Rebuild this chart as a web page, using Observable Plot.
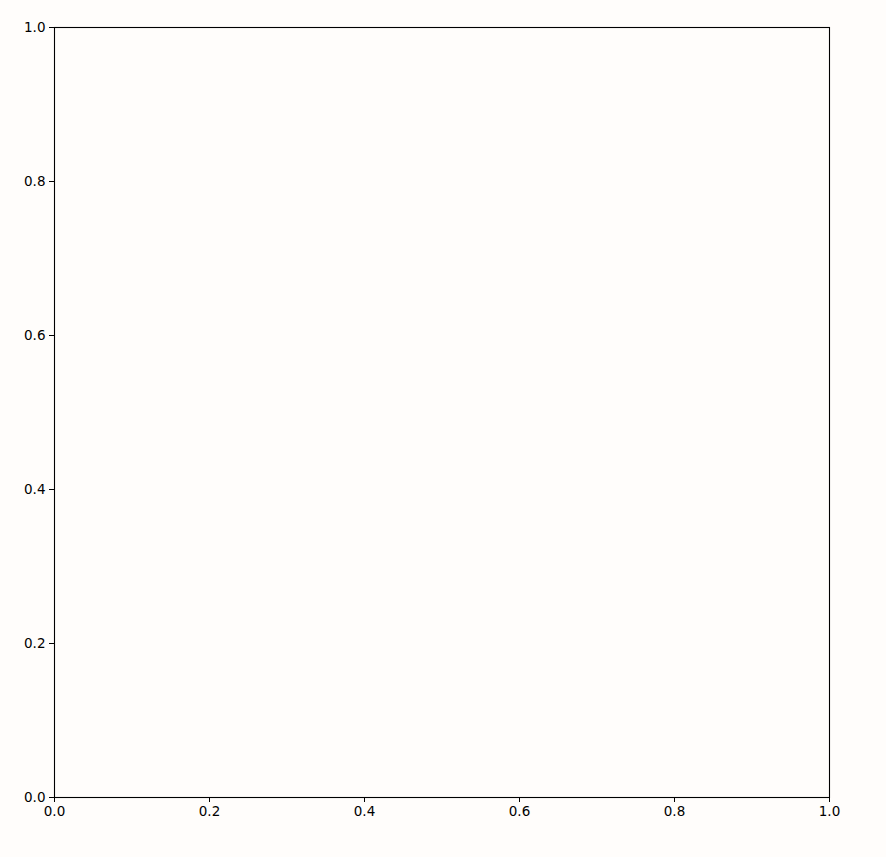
<!DOCTYPE html>
<html>
<head>
<meta charset="utf-8">
<script src="https://cdn.jsdelivr.net/npm/d3@7"></script>
<script src="https://cdn.jsdelivr.net/npm/@observablehq/plot@0.6"></script>
<style>
  html, body { margin: 0; padding: 0; background: #fffdfb; }
  #chart svg { display: block; }
</style>
</head>
<body>
<div id="chart"></div>
<script>
const xDomain = [0, 1];
const yDomain = [0, 1];
const xTicks = [0, 0.2, 0.4, 0.6, 0.8, 1.0];
const yTicks = [0, 0.2, 0.4, 0.6, 0.8, 1.0];

const chart = Plot.plot({
  width: 886,
  height: 857,
  marginLeft: 54,
  marginRight: 57,
  marginTop: 27,
  marginBottom: 60,
  style: {
    background: "#fffdfb",
    fontFamily: "DejaVu Sans",
    fontSize: "13.5px",
    color: "black"
  },
  x: { domain: xDomain, ticks: xTicks, tickFormat: ".1f", label: null },
  y: { domain: yDomain, ticks: yTicks, tickFormat: ".1f", label: null },
  marks: [
    Plot.axisX({ ticks: xTicks, tickFormat: ".1f", tickSize: 5, tickPadding: 4, label: null, stroke: "black", strokeOpacity: 1, fill: "black", fontSize: 13.5 }),
    Plot.axisY({ ticks: yTicks, tickFormat: ".1f", tickSize: 5, tickPadding: 4, label: null, stroke: "black", strokeOpacity: 1, fill: "black", fontSize: 13.5 }),
    Plot.frame({ stroke: "black", strokeWidth: 1.1 })
  ]
});
document.getElementById("chart").appendChild(chart);
</script>
</body>
</html>
